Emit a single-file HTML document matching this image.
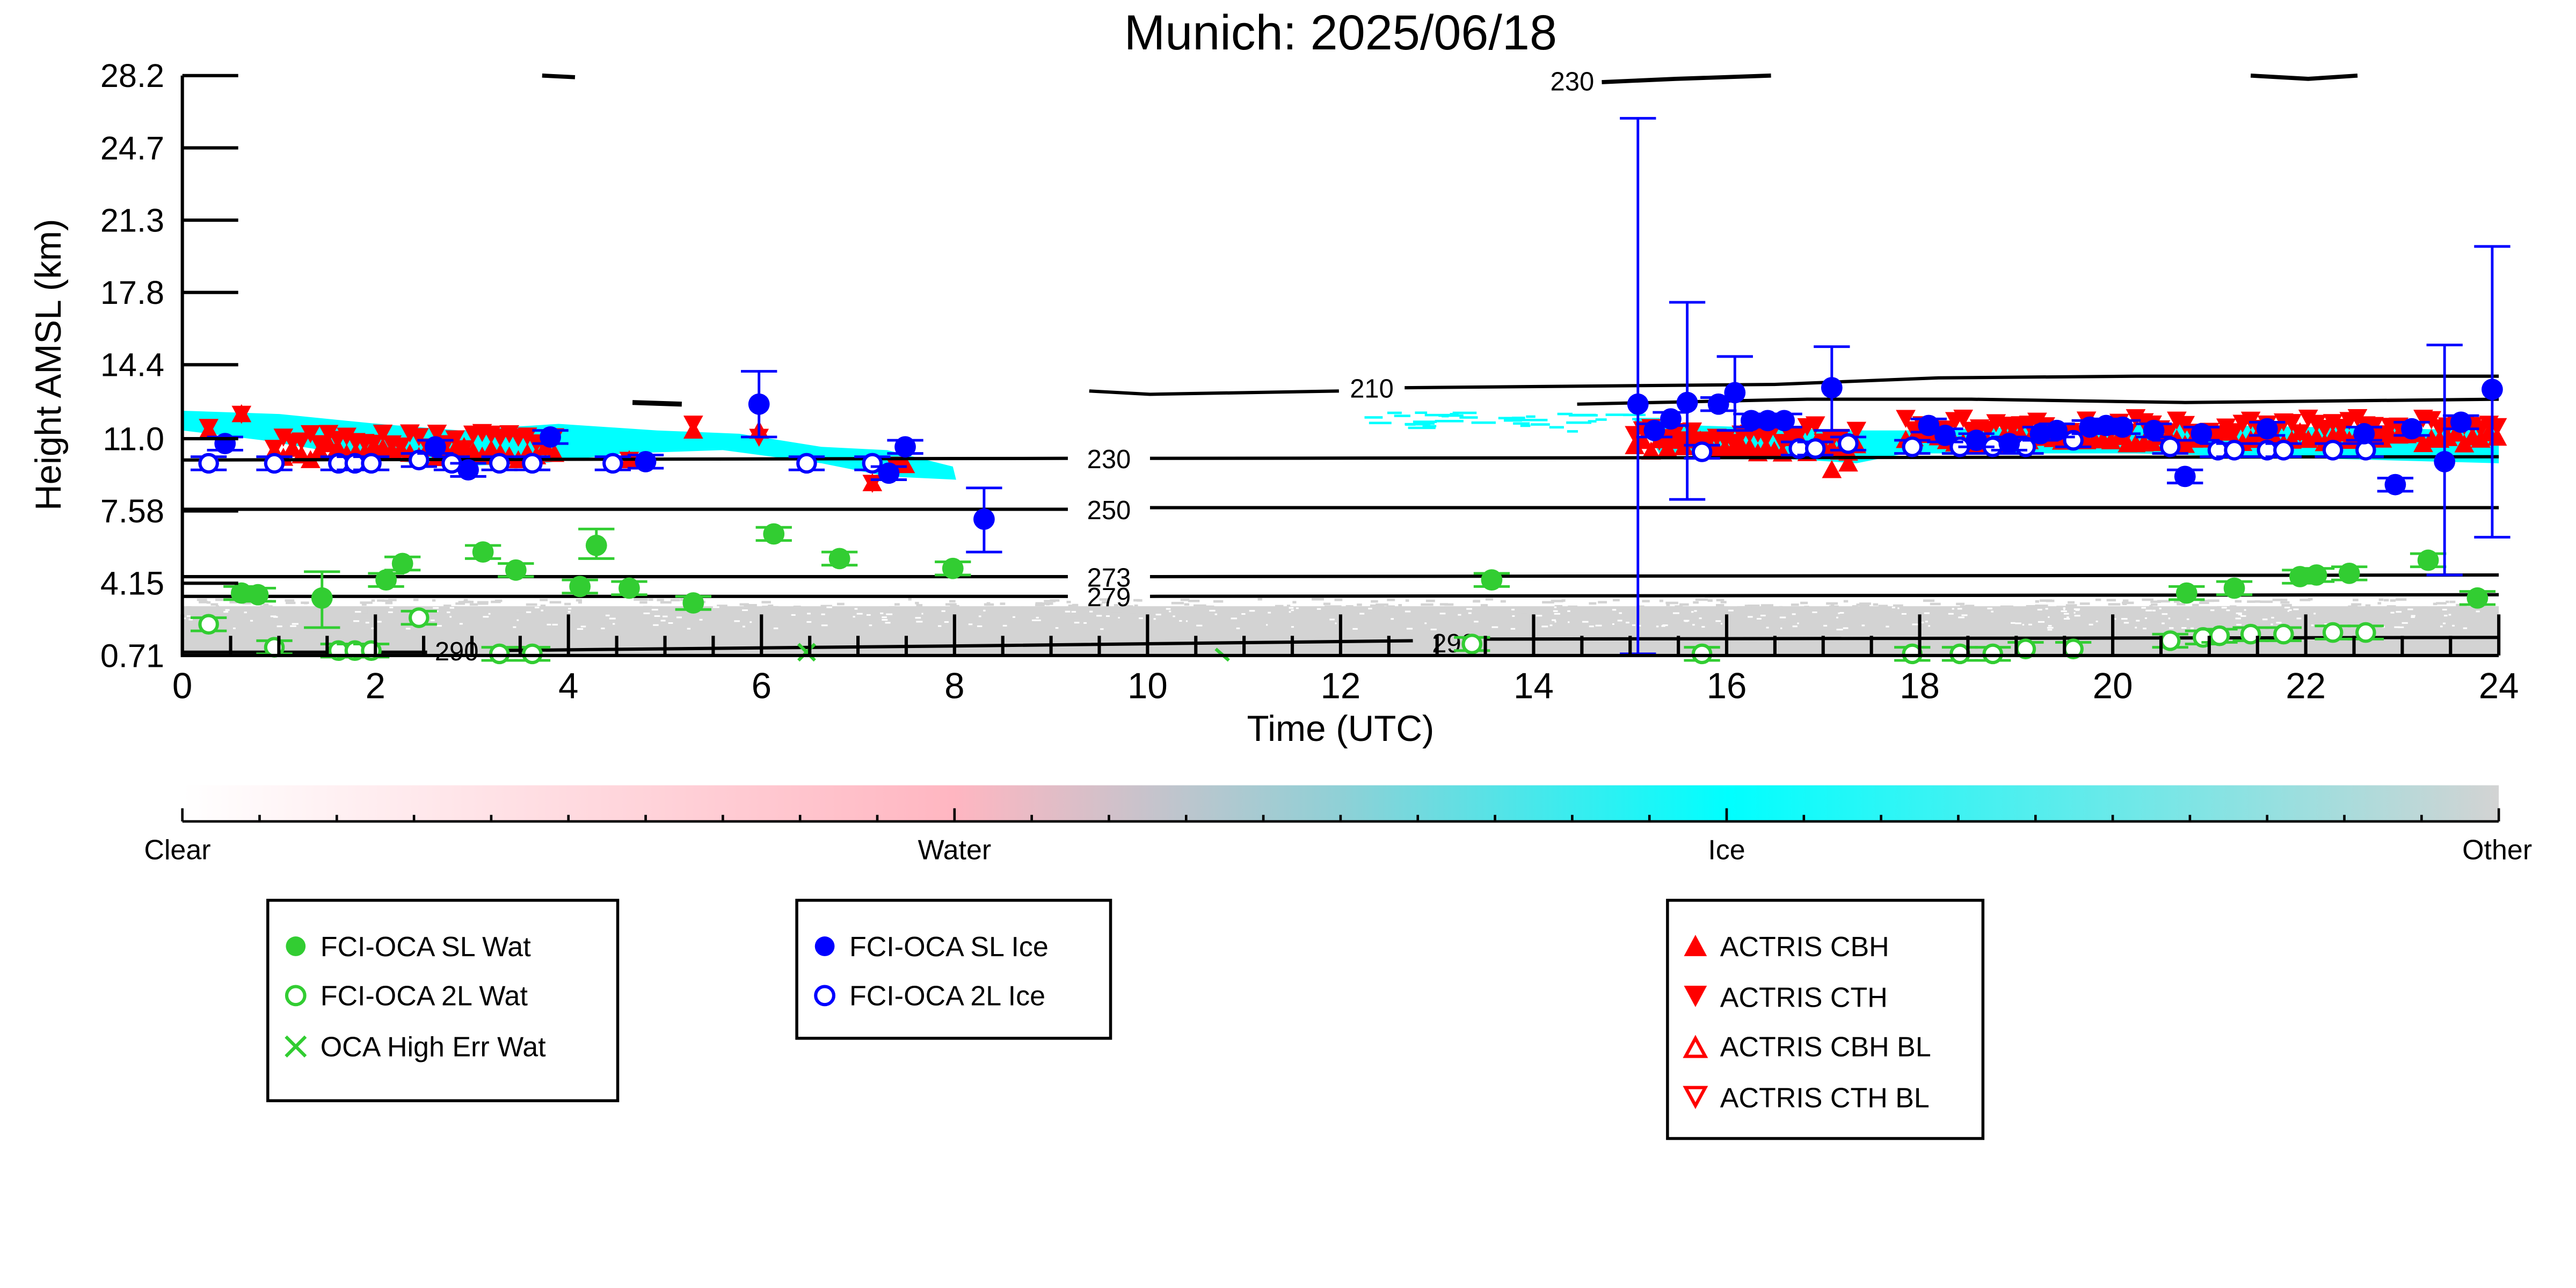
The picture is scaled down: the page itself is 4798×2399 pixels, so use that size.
<!DOCTYPE html>
<html><head><meta charset="utf-8"><style>
html,body{margin:0;padding:0;background:#fff;}
svg{display:block;}
text{font-family:"Liberation Sans","DejaVu Sans",sans-serif;}
</style></head><body>
<svg id="s" width="4798" height="2399" viewBox="0 0 1568 784" xmlns="http://www.w3.org/2000/svg">
<defs>
<linearGradient id="cb" x1="0" x2="1" y1="0" y2="0">
<stop offset="0" stop-color="#ffffff"/>
<stop offset="0.333" stop-color="#ffb6c1"/>
<stop offset="0.5" stop-color="#8fd0d6"/>
<stop offset="0.667" stop-color="#00ffff"/>
<stop offset="1" stop-color="#d3d3d3"/>
</linearGradient>
</defs>
<rect width="1568" height="784" fill="#fff"/>
<text x="816" y="30" font-size="30" text-anchor="middle">Munich: 2025/06/18</text>

<rect x="111" y="369" width="1410" height="29" fill="#d3d3d3"/>
<g id="noise"></g>
<g fill="#00ffff">
<path d="M111,250 L170,252 L230,258 L280,262 L340,258 L400,262 L450,264 L500,272 L540,274 L580,284 L582,292 L540,290 L500,282 L440,274 L380,276 L330,282 L270,284 L220,278 L160,268 L111,262 Z"/>
<path d="M1000,258 L1130,262 L1160,262 L1300,258 L1521,262 L1521,282 L1300,276 L1160,276 L1130,282 L1100,280 L1010,276 Z"/>
</g>
<g id="cyst"></g>
<g id="tri"></g>

<g stroke="#000" stroke-width="2" fill="none">
<path d="M111,351 L650,351 M700,351 L1521,350"/>
<path d="M111,363 L650,363 M700,363 L1521,362"/>
<path d="M111,310 L650,310 M700,309 L1521,309"/>
<path d="M111,280 L650,279 M700,279 L1521,278"/>
<path d="M663,238 L700,240 L815,238 M855,236 L1080,234 L1180,230 L1300,229 L1521,229"/>
<path d="M960,246 L1100,243 L1200,243 L1330,245 L1521,243"/>
<path d="M975,50 L1020,48 L1078,46 M330,46 L350,47 M1370,46 L1405,48 L1435,46" stroke-width="2.5"/>
<path d="M111,397 L260,397 M300,396 L600,393 L860,390 M905,389 L1521,388"/>
<path d="M385,245 L415,246" stroke-width="3"/>
</g>
<g font-size="16" text-anchor="middle">
<text x="675" y="357">273</text>
<text x="675" y="369">279</text>
<text x="675" y="316">250</text>
<text x="675" y="285">230</text>
<text x="835" y="242">210</text>
<text x="957" y="55">230</text>
<text x="278" y="402">290</text>
<text x="885" y="397">290</text>
</g>

<g id="mk"></g>

<g stroke="#000" stroke-width="2" fill="none">
<path d="M111,46 L111,399 L1521,399"/>
<path id="ticks"/>
</g>
<g font-size="20" text-anchor="end">
<text x="100" y="53">28.2</text>
<text x="100" y="97">24.7</text>
<text x="100" y="141">21.3</text>
<text x="100" y="185">17.8</text>
<text x="100" y="229">14.4</text>
<text x="100" y="274">11.0</text>
<text x="100" y="318">7.58</text>
<text x="100" y="362">4.15</text>
<text x="100" y="406">0.71</text>
</g>
<g font-size="22" text-anchor="middle">
<text x="111" y="425">0</text><text x="228.5" y="425">2</text><text x="346" y="425">4</text><text x="463.5" y="425">6</text><text x="581" y="425">8</text><text x="698.5" y="425">10</text><text x="816" y="425">12</text><text x="933.5" y="425">14</text><text x="1051" y="425">16</text><text x="1168.5" y="425">18</text><text x="1286" y="425">20</text><text x="1403.5" y="425">22</text><text x="1521" y="425">24</text>
<text x="816" y="451">Time (UTC)</text>
<text x="0" y="0" transform="translate(37,222) rotate(-90)">Height AMSL (km)</text>
</g>

<rect x="111" y="478" width="1410" height="22" fill="url(#cb)"/>
<path id="cbt" stroke="#000" stroke-width="1.5" fill="none"/>
<g font-size="17" text-anchor="middle">
<text x="108" y="523">Clear</text><text x="581" y="523">Water</text><text x="1051" y="523">Ice</text><text x="1520" y="523">Other</text>
</g>

<g stroke="#000" stroke-width="1.8" fill="#fff">
<rect x="163" y="548" width="213" height="122"/>
<rect x="485" y="548" width="191" height="84"/>
<rect x="1015" y="548" width="192" height="145"/>
</g>
<g font-size="17">
<circle cx="180" cy="576" r="6" fill="#32cd32"/><text x="195" y="582">FCI-OCA SL Wat</text>
<circle cx="180" cy="606" r="5.5" fill="#fff" stroke="#32cd32" stroke-width="2"/><text x="195" y="612">FCI-OCA 2L Wat</text>
<path d="M174,631 L186,643 M186,631 L174,643" stroke="#32cd32" stroke-width="2"/><text x="195" y="643">OCA High Err Wat</text>
<circle cx="502" cy="576" r="6" fill="#0000ff"/><text x="517" y="582">FCI-OCA SL Ice</text>
<circle cx="502" cy="606" r="5.5" fill="#fff" stroke="#0000ff" stroke-width="2"/><text x="517" y="612">FCI-OCA 2L Ice</text>
<path d="M1032,569 L1039,582 L1025,582 Z" fill="#f00"/><text x="1047" y="582">ACTRIS CBH</text>
<path d="M1025,600 L1039,600 L1032,613 Z" fill="#f00"/><text x="1047" y="613">ACTRIS CTH</text>
<path d="M1032,632 L1038,643 L1026,643 Z" fill="none" stroke="#f00" stroke-width="2"/><text x="1047" y="643">ACTRIS CBH BL</text>
<path d="M1026,662 L1038,662 L1032,673 Z" fill="none" stroke="#f00" stroke-width="2"/><text x="1047" y="674">ACTRIS CTH BL</text>
</g>
</svg>
<script>
(function(){
var NS="http://www.w3.org/2000/svg";
function el(p,t,a){var e=document.createElementNS(NS,t);for(var k in a)e.setAttribute(k,a[k]);p.appendChild(e);return e;}
var seed=7;function r(){seed=(seed*16807)%2147483647;return seed/2147483647;}
var d="";
for(var i=0;i<=48;i++){var x=111+i*29.375;var L=(i%4==0)?25:12;d+="M"+x+",399 L"+x+","+(399-L)+" ";}
[46,90,134,178,222,267,311,355].forEach(function(y){d+="M111,"+y+" L145,"+y+" ";});
document.getElementById("ticks").setAttribute("d",d);
var c="M111,500 L1521,500 ";
for(var i=0;i<=30;i++){var x=111+i*47;var L=(i%10==0)?8:4;c+="M"+x+",500 L"+x+","+(500-L)+" ";}
document.getElementById("cbt").setAttribute("d",c);
var nz=document.getElementById("noise");
for(var i=0;i<400;i++){var x=111+r()*1405;el(nz,"rect",{x:x,y:364+r()*8,width:2+r()*6,height:1.5,fill:"#d3d3d3"});}
for(var i=0;i<300;i++){var x=111+r()*1405;el(nz,"rect",{x:x,y:369+r()*14,width:1+r()*3,height:1,fill:"#fff"});}
var cy=document.getElementById("cyst");
for(var i=0;i<40;i++){var x=830+r()*170;el(cy,"rect",{x:x,y:250+r()*12,width:4+r()*14,height:1.5,fill:"#00ffff"});}
var tg=document.getElementById("tri");
function up(x,y){el(tg,"path",{d:"M"+x+","+(y-6)+" L"+(x+6)+","+(y+5)+" L"+(x-6)+","+(y+5)+" Z",fill:"#f00"});}
function dn(x,y){el(tg,"path",{d:"M"+(x-6)+","+(y-5)+" L"+(x+6)+","+(y-5)+" L"+x+","+(y+6)+" Z",fill:"#f00"});}
up(127,262);dn(127,260);up(147,252);dn(147,252);
for(var x=167;x<=340;x+=5.5){dn(x,263+r()*10);up(x,270+r()*10);}
up(383,280);dn(383,280);up(422,262);dn(422,258);up(462,262);dn(462,266);
up(531,294);dn(531,294);up(551,283);dn(545,283);
for(var x=995;x<=1130;x+=5){dn(x,258+r()*12);up(x,266+r()*10);}
up(1115,286);up(1125,282);
for(var x=1160;x<=1521;x+=5){dn(x,254+r()*10);up(x,263+r()*8);}
var mk=document.getElementById("mk");
function eb(x,y1,y2,col){el(mk,"path",{d:"M"+x+","+y1+" L"+x+","+y2+" M"+(x-11)+","+y1+" L"+(x+11)+","+y1+" M"+(x-11)+","+y2+" L"+(x+11)+","+y2,stroke:col,"stroke-width":1.6,fill:"none"});}
function fc(x,y,col,e1,e2){eb(x,e1==null?y-4:e1,e2==null?y+4:e2,col);el(mk,"circle",{cx:x,cy:y,r:6.5,fill:col});}
function oc(x,y,col){eb(x,y-4,y+4,col);el(mk,"circle",{cx:x,cy:y,r:5.3,fill:"#fff",stroke:col,"stroke-width":2});}
var G="#32cd32",B="#0000ff";
[[127,380],[255,376],[167,394],[206,396],[216,396],[226,396],[304,398],[324,398],[896,392],[1036,398],[1164,398],[1193,398],[1213,398],[1233,395],[1262,395],[1321,390],[1341,388],[1351,387],[1370,386],[1390,386],[1420,385],[1440,385]].forEach(function(p){oc(p[0],p[1],G);});
el(mk,"path",{d:"M486,392 L496,402 M496,392 L486,402 M740,395 L748,402",stroke:G,"stroke-width":2});
[[147,361],[157,362],[235,353],[245,343],[294,336],[314,347],[353,357],[383,358],[422,367],[471,325],[511,340],[580,346],[908,353],[1331,361],[1360,358],[1400,351],[1410,350],[1430,349],[1478,341],[1508,364]].forEach(function(p){fc(p[0],p[1],G);});
fc(196,364,G,348,382);fc(363,332,G,322,340);
[[127,282],[167,282],[206,282],[216,282],[226,282],[255,280],[275,282],[304,282],[324,282],[373,282],[491,282],[531,282],[1036,275],[1095,273],[1105,273],[1125,270],[1164,272],[1193,272],[1213,272],[1233,272],[1262,268],[1321,272],[1350,274],[1360,274],[1380,274],[1390,274],[1420,274],[1440,274]].forEach(function(p){oc(p[0],p[1],B);});
[[137,270],[265,272],[285,286],[335,266],[393,281],[541,288],[551,272],[1007,262],[1017,255],[1046,246],[1066,256],[1076,256],[1086,256],[1174,259],[1184,265],[1203,268],[1223,270],[1242,264],[1252,262],[1272,260],[1282,259],[1292,260],[1311,262],[1330,290],[1340,264],[1380,261],[1439,264],[1458,295],[1468,261],[1498,257]].forEach(function(p){fc(p[0],p[1],B);});
fc(462,246,B,226,266);fc(599,316,B,297,336);fc(997,246,B,72,398);fc(1027,245,B,184,304);fc(1056,239,B,217,262);fc(1115,236,B,211,262);fc(1488,281,B,210,350);fc(1517,237,B,150,327);
})();
</script>
</body></html>
